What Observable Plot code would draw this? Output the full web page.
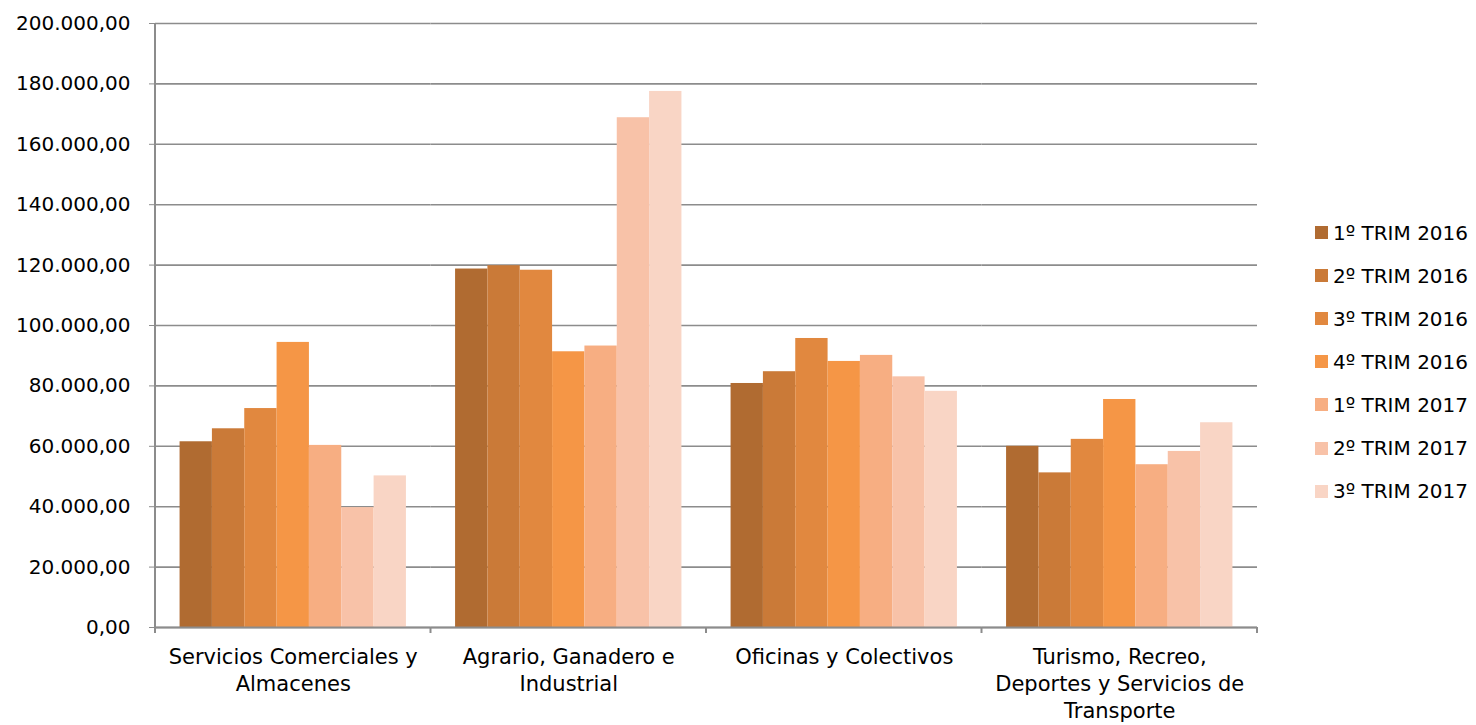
<!DOCTYPE html>
<html><head><meta charset="utf-8">
<script src="https://cdn.jsdelivr.net/npm/d3@7"></script>
<script src="https://cdn.jsdelivr.net/npm/@observablehq/plot@0.6"></script>
<style>
body{margin:0;background:#fff;font-family:"DejaVu Sans",sans-serif;}
#wrap{position:relative;width:1476px;height:725px;overflow:hidden;}
#legend{position:absolute;left:1315px;top:211px;}
.row{display:flex;align-items:center;height:43.1px;font-size:20px;color:#000;white-space:nowrap;}
.sw{width:13px;height:13px;margin-right:5px;flex:none;}
</style></head><body><div id="wrap"></div>
<script>
const categories = ["Servicios Comerciales y Almacenes","Agrario, Ganadero e Industrial","Oficinas y Colectivos","Turismo, Recreo, Deportes y Servicios de Transporte"];
const categoryLabels = ["Servicios Comerciales y\nAlmacenes","Agrario, Ganadero e\nIndustrial","Oficinas y Colectivos","Turismo, Recreo,\nDeportes y Servicios de\nTransporte"];
const series = ["1º TRIM 2016","2º TRIM 2016","3º TRIM 2016","4º TRIM 2016","1º TRIM 2017","2º TRIM 2017","3º TRIM 2017"];
const trim1_2016 = [61500, 118700, 80800, 60000];
const trim2_2016 = [65800, 119800, 84700, 51200];
const trim3_2016 = [72500, 118300, 95700, 62300];
const trim4_2016 = [94400, 91300, 88100, 75500];
const trim1_2017 = [60300, 93200, 90100, 53900];
const trim2_2017 = [39700, 168800, 83000, 58300];
const trim3_2017 = [50200, 177500, 78200, 67800];
const colors = ["#B06B31","#CA7A38","#E1883F","#F59646","#F7AE82","#F8C2A8","#F9D5C5"];
const yTicks = [0,20000,40000,60000,80000,100000,120000,140000,160000,180000,200000];

const seriesValues = [trim1_2016,trim2_2016,trim3_2016,trim4_2016,trim1_2017,trim2_2017,trim3_2017];
const data = series.flatMap((s,i)=>categories.map((c,j)=>({category:c, series:s, value:seriesValues[i][j]})));
const labelOf = new Map(categories.map((c,i)=>[c, categoryLabels[i]]));
const fmt = d3.formatLocale({decimal:",",thousands:".",grouping:[3],currency:["","€"]}).format(",.2f");
const grid = "#8c8c8c";

const chart = Plot.plot({
  width:1476, height:725,
  marginLeft:155, marginRight:219, marginTop:23, marginBottom:98,
  style:{fontFamily:"DejaVu Sans", fontSize:"20px", color:"#000", background:"#fff"},
  fx:{domain:categories, padding:0, label:null, round:false},
  x:{domain:series, paddingInner:0, paddingOuter:0.76, axis:null, round:false},
  y:{domain:[0,200000], label:null},
  color:{domain:series, range:colors},
  marks:[
    Plot.gridY(yTicks, {stroke:grid, strokeOpacity:1, strokeWidth:1.6}),
    Plot.barY(data, {fx:"category", x:"series", y:"value", fill:"series"}),
    Plot.ruleY([0], {stroke:grid, strokeWidth:2}),
    Plot.axisY(yTicks, {tickFormat:fmt, tickSize:6, tickPadding:19, stroke:grid, fill:"#000", fontSize:20, label:null}),
    Plot.axisFx({anchor:"bottom", tickSize:0, tickPadding:17, tickFormat:c=>labelOf.get(c), fontSize:21, lineHeight:1.3, fill:"#000", label:null})
  ]
});

// axis line and category boundary ticks, placed from the chart's own scales
const fx = chart.scale("fx"), y = chart.scale("y");
const svg = d3.select(chart);
const y0 = y.apply(0), yTop = y.apply(200000);
const xs = categories.map(c=>fx.apply(c));
xs.push(fx.apply(categories[categories.length-1]) + fx.step);
svg.append("line").attr("x1",xs[0]).attr("x2",xs[0]).attr("y1",yTop).attr("y2",y0+6).attr("stroke",grid).attr("stroke-width",2);
xs.forEach(x=>svg.append("line").attr("x1",x).attr("x2",x).attr("y1",y0).attr("y2",y0+6).attr("stroke",grid).attr("stroke-width",2));

const wrap = document.getElementById("wrap");
wrap.appendChild(chart);
const legend = document.createElement("div");
legend.id = "legend";
series.forEach((s,i)=>{
  const r = document.createElement("div"); r.className = "row";
  const sw = document.createElement("span"); sw.className = "sw"; sw.style.background = colors[i];
  const t = document.createElement("span"); t.textContent = s;
  r.appendChild(sw); r.appendChild(t); legend.appendChild(r);
});
wrap.appendChild(legend);
</script></body></html>
